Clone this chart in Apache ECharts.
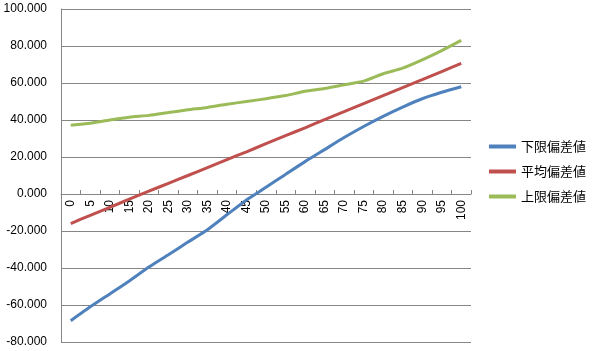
<!DOCTYPE html>
<html>
<head>
<meta charset="utf-8">
<script src="https://cdn.jsdelivr.net/npm/echarts@6/dist/echarts.min.js"></script>
<style>
  html, body { margin: 0; padding: 0; background: #fff; }
  #chart { width: 592px; height: 351px; }
</style>
</head>
<body>
<div id="chart"></div>
<script>
  // x categories
  const categories = ['0', '5', '10', '15', '20', '25', '30', '35', '40', '45', '50',
    '55', '60', '65', '70', '75', '80', '85', '90', '95', '100'];

  // series values
  const lowerValues = [-68.5, -61, -54, -47, -39.5, -32.8, -26, -19.3, -11.2, -3.2, 3.6,
    10.6, 17.5, 24, 30.5, 36.5, 42, 47, 51.5, 55, 58];
  const meanValues = [-16, -11.5, -7.2, -2.8, 1.5, 5.8, 10, 14.3, 18.6, 22.8, 27.2,
    31.5, 35.8, 40.2, 44.5, 48.9, 53.2, 57.5, 61.8, 66.2, 70.6];
  const upperValues = [37.2, 38.3, 40, 41.5, 42.5, 44, 45.5, 46.8, 48.5, 50, 51.5,
    53.2, 55.5, 57, 59, 61, 65, 68, 72.5, 77.5, 83];

  const seriesNames = ['下限偏差値', '平均偏差値', '上限偏差値'];
  const seriesColors = ['#4F81BD', '#C0504D', '#9BBB59'];

  const yMin = -80;
  const yMax = 100;
  const gridTop = 9;
  const gridBottom = 9;
  const chartHeight = 351;

  const chart = echarts.init(document.getElementById('chart'));

  const makeLine = (name, data, color) => ({
    name: name,
    type: 'line',
    data: data,
    smooth: 0.2,
    showSymbol: false,
    symbol: 'none',
    lineStyle: { width: 3, color: color },
    itemStyle: { color: color },
  });

  // move the category axis (line, ticks and labels) up to y = 0
  const plotHeight = chartHeight - gridTop - gridBottom;
  const zeroOffset = -plotHeight * (0 - yMin) / (yMax - yMin);

  chart.setOption({
    animation: false,
    textStyle: { fontFamily: 'Liberation Sans, Arial, sans-serif' },
    grid: {
      left: 61, right: 121, top: gridTop, bottom: gridBottom,
      containLabel: false,
      outerBoundsMode: 'none',
    },
    legend: {
      orient: 'vertical',
      left: 484,
      top: 135,
      icon: 'rect',
      itemWidth: 27,
      itemHeight: 4,
      itemGap: 12,
      data: seriesNames,
      textStyle: {
        fontFamily: 'Noto Sans CJK JP, sans-serif',
        fontSize: 13,
        color: '#000',
      },
    },
    xAxis: {
      type: 'category',
      data: categories,
      boundaryGap: true,
      offset: zeroOffset,
      axisLine: { onZero: false, lineStyle: { color: '#868686', width: 1 } },
      axisTick: { show: true, inside: true, length: 4, lineStyle: { color: '#868686' } },
      axisLabel: {
        rotate: 90,
        interval: 0,
        margin: 6,
        fontSize: 12,
        color: '#000',
      },
      splitLine: { show: false },
    },
    yAxis: {
      type: 'value',
      min: yMin,
      max: yMax,
      interval: 20,
      axisLine: { show: true, lineStyle: { color: '#868686', width: 1 } },
      axisTick: { show: false },
      axisLabel: {
        margin: 14,
        fontSize: 12,
        color: '#000',
        formatter: (v) => v.toFixed(3),
      },
      splitLine: { show: true, lineStyle: { color: '#868686', width: 1 } },
    },
    series: [
      makeLine(seriesNames[0], lowerValues, seriesColors[0]),
      makeLine(seriesNames[1], meanValues, seriesColors[1]),
      makeLine(seriesNames[2], upperValues, seriesColors[2]),
    ],
  });
</script>
</body>
</html>
